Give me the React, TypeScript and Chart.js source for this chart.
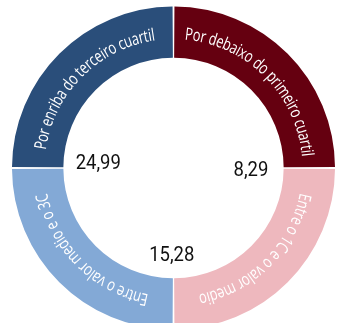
import React, { useEffect, useRef } from 'react';
import { Chart, registerables } from 'chart.js';

Chart.register(...registerables);

// Segment data (clockwise from the top)
const SEGMENT_LABELS = [
  'Por debaixo do primeiro cuartil',
  'Entre o 1C e o valor medio',
  'Entre o valor medio e o 3C',
  'Por enriba do terceiro cuartil',
];
const SEGMENT_SHARES = [1, 1, 1, 1];
const SEGMENT_COLORS = ['#650010', '#eeb8be', '#83a9d6', '#2a4e7a'];

// Values shown inside the ring
const VALUE_LABELS = ['24,99', '8,29', '15,28'];
// layout anchors for the values: angle (rad, canvas convention) and fraction of inner radius
const VALUE_ANCHORS = [
  { angle: Math.PI + 0.05, rf: 0.69 },
  { angle: 0.03, rf: 0.71 },
  { angle: Math.PI / 2 + 0.02, rf: 0.8 },
];

const ARC_FONT = '17px "Open Sans", "DejaVu Sans", sans-serif';
const LONGEST_SPAN_DEG = 80;

const arcTextPlugin = {
  id: 'arcText',
  afterDatasetsDraw(chart: any) {
    const ctx: CanvasRenderingContext2D = chart.ctx;
    const meta = chart.getDatasetMeta(0);
    if (!meta || !meta.data.length) return;
    ctx.save();
    ctx.font = ARC_FONT;
    ctx.fillStyle = '#ffffff';
    ctx.textAlign = 'center';
    ctx.textBaseline = 'middle';

    const first = meta.data[0].getProps(['innerRadius', 'outerRadius'], true);
    const r = (first.innerRadius + first.outerRadius) / 2 - 1;
    const longest = SEGMENT_LABELS.reduce((m, s) => Math.max(m, ctx.measureText(s).width), 0);
    const sx = ((LONGEST_SPAN_DEG * Math.PI) / 180) * r / longest;

    meta.data.forEach((arc: any, i: number) => {
      const p = arc.getProps(['x', 'y', 'startAngle', 'endAngle'], true);
      const text = SEGMENT_LABELS[i];
      const widths = Array.from(text).map((c) => ctx.measureText(c).width * sx);
      const total = widths.reduce((a, b) => a + b, 0);
      const mid = (p.startAngle + p.endAngle) / 2;
      let a = mid - total / r / 2;
      Array.from(text).forEach((c, k) => {
        const ca = a + widths[k] / 2 / r;
        ctx.save();
        ctx.translate(p.x + r * Math.cos(ca), p.y + r * Math.sin(ca));
        ctx.rotate(ca + Math.PI / 2);
        ctx.scale(sx, 1);
        ctx.fillText(c, 0, 0);
        ctx.restore();
        a += widths[k] / r;
      });
    });

    // values in the hole
    const c0 = meta.data[0].getProps(['x', 'y', 'innerRadius'], true);
    ctx.fillStyle = '#111111';
    ctx.font = '21px Roboto, "DejaVu Sans", sans-serif';
    VALUE_LABELS.forEach((v, i) => {
      const an = VALUE_ANCHORS[i];
      const px = c0.x + Math.cos(an.angle) * c0.innerRadius * an.rf;
      const py = c0.y + Math.sin(an.angle) * c0.innerRadius * an.rf;
      ctx.save();
      ctx.translate(px, py);
      ctx.scale(0.88, 1);
      ctx.fillText(v, 0, 0);
      ctx.restore();
    });
    ctx.restore();
  },
};

export default function App() {
  const ref = useRef<HTMLCanvasElement | null>(null);
  useEffect(() => {
    if (!ref.current) return;
    const chart = new Chart(ref.current, {
      type: 'doughnut',
      data: {
        labels: SEGMENT_LABELS,
        datasets: [
          {
            data: SEGMENT_SHARES,
            backgroundColor: SEGMENT_COLORS,
            borderWidth: 0,
            spacing: 2,
          },
        ],
      },
      options: {
        animation: false,
        responsive: false,
        maintainAspectRatio: false,
        devicePixelRatio: 1,
        cutout: '68%',
        layout: { padding: { top: 6.5, bottom: 6.5, left: 8, right: 8 } },
        plugins: {
          legend: { display: false },
          tooltip: { enabled: false },
        },
      },
      plugins: [arcTextPlugin],
    });
    return () => chart.destroy();
  }, []);

  return (
    <div
      style={{
        position: 'fixed',
        left: 0,
        top: 0,
        width: 343,
        height: 323,
        overflow: 'hidden',
        background: '#ffffff',
      }}
    >
      <canvas ref={ref} width={347} height={336} style={{ display: 'block' }} />
    </div>
  );
}
